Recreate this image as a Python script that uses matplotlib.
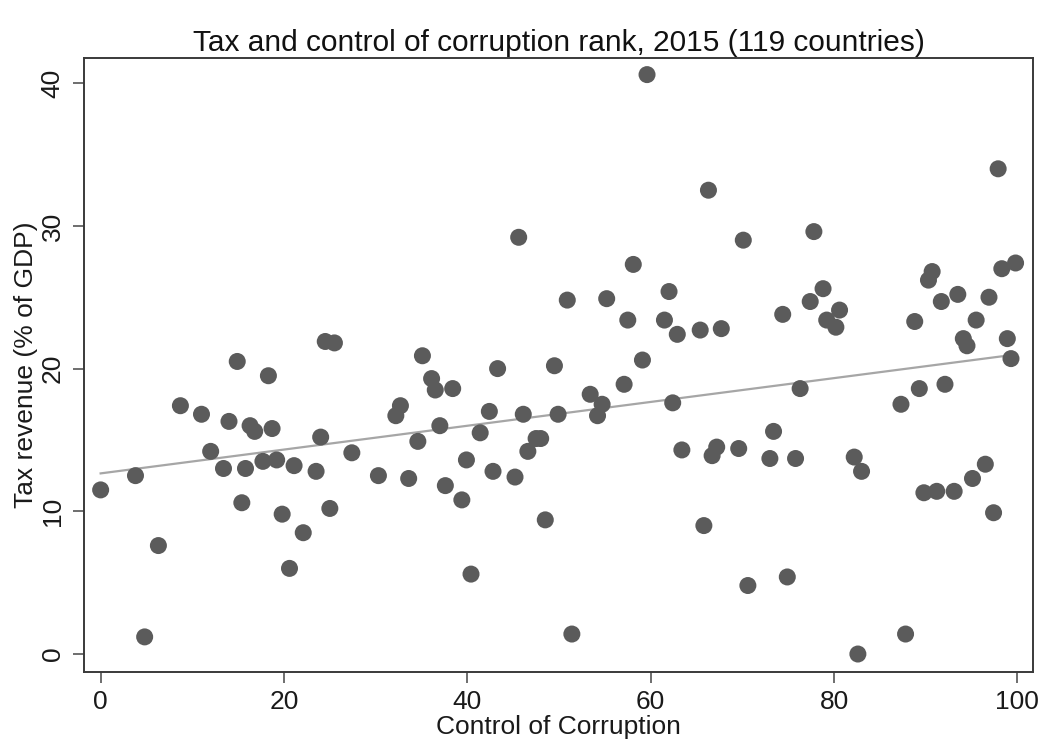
import numpy as np
import matplotlib
matplotlib.use("Agg")
import matplotlib.pyplot as plt

plt.rcParams['font.family'] = ['Liberation Sans', 'DejaVu Sans']

control = [0.0, 3.8, 4.8, 6.3, 8.7, 11.0, 12.0, 13.4, 14.0, 14.9,
           15.4, 15.8, 16.3, 16.8, 17.7, 18.3, 18.7, 19.2, 19.8, 20.6,
           21.1, 22.1, 23.5, 24.0, 24.5, 25.5, 25.0, 27.4, 30.3, 32.2,
           32.7, 33.6, 34.6, 35.1, 36.1, 36.5, 37.0, 37.6, 38.4, 39.4,
           39.9, 40.4, 41.4, 42.4, 42.8, 43.3, 45.2, 45.6, 46.1, 46.6,
           47.5, 48.0, 48.5, 49.5, 49.9, 50.9, 51.4, 53.4, 54.2, 54.7,
           55.2, 57.1, 57.5, 58.1, 59.1, 59.6, 61.5, 62.0, 62.4, 62.9,
           63.4, 65.4, 65.8, 66.3, 66.7, 67.2, 67.7, 69.6, 70.1, 70.6,
           73.0, 73.4, 74.4, 74.9, 75.8, 76.3, 77.4, 77.8, 78.8, 79.2,
           80.2, 80.6, 82.2, 82.6, 83.0, 87.3, 87.8, 88.8, 89.3, 89.8,
           90.3, 90.7, 91.2, 91.7, 92.1, 93.1, 93.5, 94.1, 94.5, 95.1,
           95.5, 96.5, 96.9, 97.4, 97.9, 98.3, 98.9, 99.3, 99.8]

tax = [11.5, 12.5, 1.2, 7.6, 17.4, 16.8, 14.2, 13.0, 16.3, 20.5,
       10.6, 13.0, 16.0, 15.6, 13.5, 19.5, 15.8, 13.6, 9.8, 6.0,
       13.2, 8.5, 12.8, 15.2, 21.9, 21.8, 10.2, 14.1, 12.5, 16.7,
       17.4, 12.3, 14.9, 20.9, 19.3, 18.5, 16.0, 11.8, 18.6, 10.8,
       13.6, 5.6, 15.5, 17.0, 12.8, 20.0, 12.4, 29.2, 16.8, 14.2,
       15.1, 15.1, 9.4, 20.2, 16.8, 24.8, 1.4, 18.2, 16.7, 17.5,
       24.9, 18.9, 23.4, 27.3, 20.6, 40.6, 23.4, 25.4, 17.6, 22.4,
       14.3, 22.7, 9.0, 32.5, 13.9, 14.5, 22.8, 14.4, 29.0, 4.8,
       13.7, 15.6, 23.8, 5.4, 13.7, 18.6, 24.7, 29.6, 25.6, 23.4,
       22.9, 24.1, 13.8, 0.0, 12.8, 17.5, 1.4, 23.3, 18.6, 11.3,
       26.2, 26.8, 11.4, 24.7, 18.9, 11.4, 25.2, 22.1, 21.6, 12.3,
       23.4, 13.3, 25.0, 9.9, 34.0, 27.0, 22.1, 20.7, 27.4]

x_ticks = [0, 20, 40, 60, 80, 100]
y_ticks = [0, 10, 20, 30, 40]

title = "Tax and control of corruption rank, 2015 (119 countries)"
xlabel = "Control of Corruption"
ylabel = "Tax revenue (% of GDP)"

fig = plt.figure(figsize=(10.43, 7.48), dpi=100)
ax = fig.add_axes([0.0805, 0.1016, 0.9099, 0.8204])

x = np.array(control)
y = np.array(tax)
ax.scatter(x, y, s=150, color='#5b5b5b', edgecolors='none', zorder=3)

b, a = np.polyfit(x, y, 1)
xl = np.array([x.min(), x.max()])
ax.plot(xl, a + b * xl, color='#a6a6a6', lw=1.6, zorder=2)

ax.set_xlim(-1.82, 101.7)
ax.set_ylim(-1.26, 41.74)
ax.set_xticks(x_ticks)
ax.set_yticks(y_ticks)
ax.tick_params(axis='both', direction='out', length=8, width=1.2,
               color='#555555', labelsize=19, labelcolor='#1a1a1a')
ax.tick_params(axis='x', pad=5)
ax.tick_params(axis='y', pad=6)
for lbl in ax.get_yticklabels():
    lbl.set_rotation(90)
    lbl.set_va('center')
for sp in ax.spines.values():
    sp.set_color('#3a3a3a')
    sp.set_linewidth(1.4)

ax.set_title(title, fontsize=21.5, color='#111111', pad=5)
ax.set_xlabel(xlabel, fontsize=19, color='#1a1a1a', labelpad=1)
ax.set_ylabel(ylabel, fontsize=19, color='#1a1a1a', labelpad=2)

fig.savefig("out.png", dpi=100)
